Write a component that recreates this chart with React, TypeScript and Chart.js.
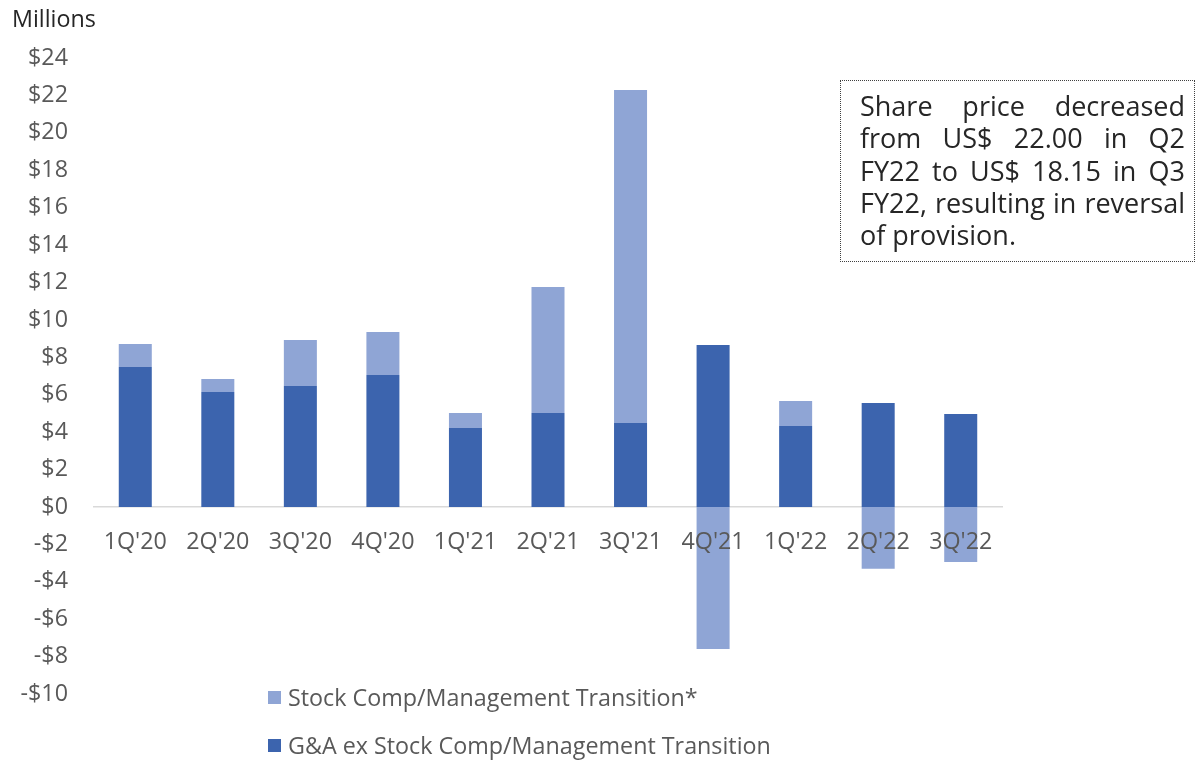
import React, { useEffect, useRef } from "react";
import { Chart, registerables } from "chart.js";

Chart.register(...registerables);

const categories = ["1Q'20", "2Q'20", "3Q'20", "4Q'20", "1Q'21", "2Q'21", "3Q'21", "4Q'21", "1Q'22", "2Q'22", "3Q'22"];
const gaExStockComp = [7.48, 6.15, 6.47, 7.06, 4.22, 5.02, 4.49, 8.66, 4.33, 5.56, 4.97];
const stockComp = [1.23, 0.69, 2.46, 2.29, 0.8, 6.74, 17.8, -7.59, 1.34, -3.31, -2.94];
const yMin = -10;
const yMax = 24;
const yStep = 2;
const seriesNames = ["G&A ex Stock Comp/Management Transition", "Stock Comp/Management Transition*"];
const noteText = "Share price decreased from US$ 22.00 in Q2 FY22 to US$ 18.15 in Q3 FY22, resulting in reversal of provision.";

const DARK = "#3C64AE";
const LIGHT = "#8FA5D5";
const FONT = "'Open Sans', 'Noto Sans', sans-serif";
const FS = 23.3;

export default function App() {
  const ref = useRef<HTMLCanvasElement | null>(null);
  useEffect(() => {
    if (!ref.current) return;
    const chart = new Chart(ref.current, {
      type: "bar",
      data: {
        labels: categories,
        datasets: [
          { label: seriesNames[0], data: gaExStockComp, backgroundColor: DARK, barPercentage: 0.8, categoryPercentage: 0.5 },
          { label: seriesNames[1], data: stockComp, backgroundColor: LIGHT, barPercentage: 0.8, categoryPercentage: 0.5 },
        ],
      },
      options: {
        animation: false,
        responsive: false,
        maintainAspectRatio: false,
        layout: { padding: { top: 58, bottom: 66, left: 0, right: 195 } },
        plugins: { legend: { display: false }, tooltip: { enabled: false } },
        scales: {
          x: {
            stacked: true,
            position: { y: 0 } as any,
            grid: { display: false, drawTicks: false },
            border: { display: true, color: "#D9D9D9", width: 1.5, z: -1 } as any,
            ticks: { z: 1, color: "#595959", font: { family: FONT, size: FS }, padding: 21, maxRotation: 0 },
          },
          y: {
            stacked: true,
            min: yMin,
            max: yMax,
            grid: { display: false, drawTicks: false },
            border: { display: false },
            afterFit: (s: any) => { s.width = 94; },
            ticks: {
              stepSize: yStep,
              color: "#595959",
              font: { family: FONT, size: FS },
              padding: 26,
              callback: (v: any) => (Number(v) < 0 ? "-$" + Math.abs(Number(v)) : "$" + v),
            },
          },
        },
      },
    });
    return () => chart.destroy();
  }, []);

  const legendItems = [
    { label: seriesNames[1], color: LIGHT },
    { label: seriesNames[0], color: DARK },
  ];

  return (
    <div style={{ position: "absolute", left: 0, top: 0, width: 1197, height: 760, background: "#fff", fontFamily: FONT, overflow: "hidden" }}>
      <canvas ref={ref} width={1197} height={760} style={{ position: "absolute", left: 0, top: 0 }} />
      <div style={{ position: "absolute", left: 12, top: 2, fontSize: FS, color: "#262626" }}>Millions</div>
      <div
        style={{
          position: "absolute",
          left: 840,
          top: 80,
          width: 355,
          height: 182,
          boxSizing: "border-box",
          border: "1.5px dotted #404040",
          padding: "9px 9px 0 19px",
          fontSize: 27,
          lineHeight: "32.3px",
          color: "#262626",
          textAlign: "justify",
        }}
      >
        {noteText}
      </div>
      {legendItems.map((it, i) => (
        <div key={i} style={{ position: "absolute", left: 268, top: 682 + i * 48, height: 30, display: "flex", alignItems: "center", fontSize: FS, color: "#595959", whiteSpace: "nowrap" }}>
          <span style={{ display: "inline-block", width: 13, height: 13, background: it.color, marginRight: 7 }} />
          {it.label}
        </div>
      ))}
    </div>
  );
}
